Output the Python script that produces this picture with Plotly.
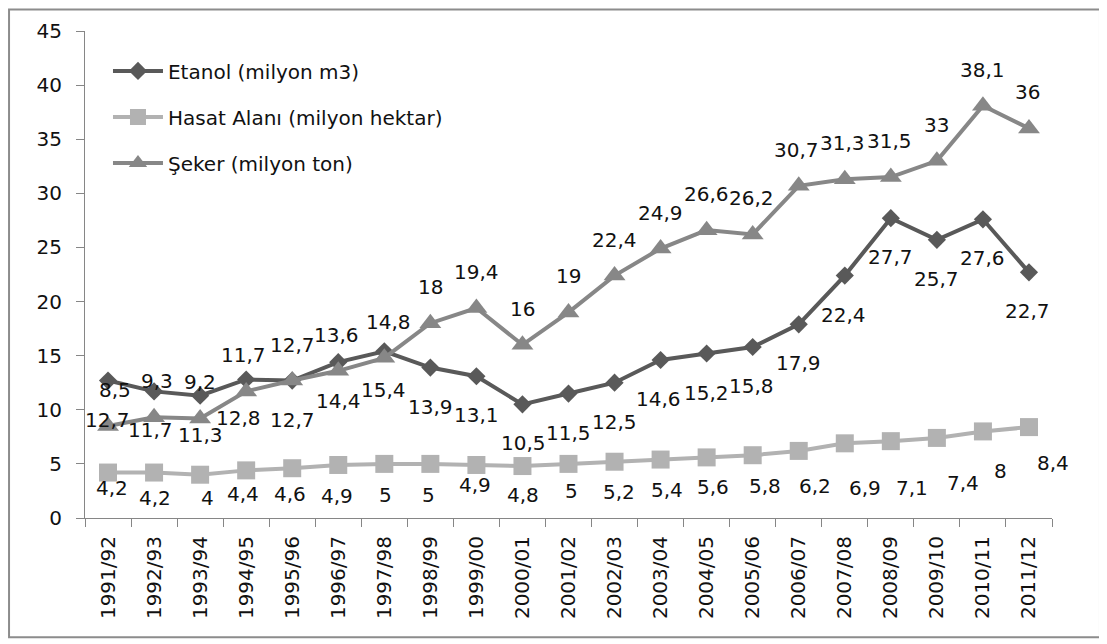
import plotly.graph_objects as go

# ---------------- data ----------------
seasons = ["1991/92", "1992/93", "1993/94", "1994/95", "1995/96", "1996/97", "1997/98",
           "1998/99", "1999/00", "2000/01", "2001/02", "2002/03", "2003/04", "2004/05",
           "2005/06", "2006/07", "2007/08", "2008/09", "2009/10", "2010/11", "2011/12"]
etanol = [12.7, 11.7, 11.3, 12.8, 12.7, 14.4, 15.4, 13.9, 13.1, 10.5, 11.5, 12.5,
          14.6, 15.2, 15.8, 17.9, 22.4, 27.7, 25.7, 27.6, 22.7]
hasat = [4.2, 4.2, 4.0, 4.4, 4.6, 4.9, 5.0, 5.0, 4.9, 4.8, 5.0, 5.2,
         5.4, 5.6, 5.8, 6.2, 6.9, 7.1, 7.4, 8.0, 8.4]
seker = [8.5, 9.3, 9.2, 11.7, 12.7, 13.6, 14.8, 18.0, 19.4, 16.0, 19.0, 22.4,
         24.9, 26.6, 26.2, 30.7, 31.3, 31.5, 33.0, 38.1, 36.0]
series_names = ["Etanol (milyon m3)", "Hasat Alanı (milyon hektar)", "Şeker (milyon ton)"]
y_ticks = [0, 5, 10, 15, 20, 25, 30, 35, 40, 45]

# ---------------- label offsets (style, px) ----------------
etanol_dx = [-1, -4, 0, -8, 0, 0, -1, 0, 0, 1, 0, 0, -2, 0, -1, 0, -1, 0, 0, 0, -1]
etanol_dy = [39] * 21
seker_dx = [7, 3, 0, -3, 0, -2, 4, 0, 0, 0, 0, 0, 0, 0, -1, -2, -2, -1, 0, 0, -1]
seker_dy = [-36] * 21
hasat_dx = [4, 1, 7, -3, -2, -1, 1, -2, -1, 1, 3, 4, 6, 6, 12, 16, 20, 21, 26, 18, 24]
hasat_dy = [15, 25, 23, 24, 26, 31, 31, 31, 20, 29, 27, 30, 30, 30, 31, 35, 45, 47, 45, 40, 36]

FONT = "DejaVu Sans"
FS = 20
TXT = "#111111"
colors = ["#595959", "#b2b2b2", "#878787"]
symbols = ["diamond", "square", "triangle-up"]
msizes = [14, 18, 19]


def fmt(v):
    return f"{v:g}".replace(".", ",")


fig = go.Figure()
for i, (name, vals) in enumerate(zip(series_names, [etanol, hasat, seker])):
    fig.add_trace(go.Scatter(
        x=seasons, y=vals, name=name, mode="lines+markers",
        line=dict(color=colors[i], width=4),
        marker=dict(symbol=symbols[i], size=msizes[i], color=colors[i]),
        legendgroup=f"g{i}",
        hoverinfo="skip",
    ))

annotations = []
for vals, dxs, dys in [(etanol, etanol_dx, etanol_dy), (hasat, hasat_dx, hasat_dy),
                       (seker, seker_dx, seker_dy)]:
    for s, v, dx, dy in zip(seasons, vals, dxs, dys):
        annotations.append(dict(
            x=s, y=v, xref="x", yref="y", text=fmt(v), showarrow=False,
            xshift=dx, yshift=-dy, font=dict(family=FONT, size=FS, color=TXT),
            xanchor="center", yanchor="middle",
        ))

# page body has an 8px default margin; work in screen pixels
OFF = 8
W, H = 1099, 636
ml = 85 - OFF
mr = W - (1052.5 - OFF)
mt = 30.5 - OFF
mb = H - (518.5 - OFF)
pw, ph = W - ml - mr, H - mt - mb


def sx(px):
    return (px - OFF - ml) / pw


def sy(py):
    return (H - mb - (py - OFF)) / ph


fig.update_layout(
    width=W, height=H,
    margin=dict(l=ml, r=mr, t=mt, b=mb, pad=0),
    paper_bgcolor="white", plot_bgcolor="white",
    font=dict(family=FONT, size=FS, color=TXT),
    showlegend=True,
    legend=dict(
        x=sx(108), y=sy(51), xanchor="left", yanchor="top",
        bgcolor="rgba(0,0,0,0)", borderwidth=0, tracegroupgap=17,
        itemwidth=50, font=dict(family=FONT, size=FS, color=TXT),
        itemclick=False, itemdoubleclick=False,
    ),
    annotations=annotations,
    shapes=[dict(
        type="rect", xref="paper", yref="paper",
        x0=sx(9), x1=sx(1100.5), y0=sy(638), y1=sy(9),
        line=dict(color="#8c8c8c", width=2), fillcolor="rgba(0,0,0,0)", layer="below",
    )],
    xaxis=dict(
        type="category", categoryorder="array", categoryarray=seasons,
        range=[-0.5, len(seasons) - 0.5], showgrid=False, zeroline=False,
        showline=True, linecolor="#868686", linewidth=1,
        ticks="outside", tickson="boundaries", ticklen=8, tickcolor="#868686",
        tickangle=-90, tickfont=dict(family=FONT, size=FS, color=TXT),
        automargin=False, ticklabelstandoff=9,
    ),
    yaxis=dict(
        range=[0, 45], tickvals=y_ticks, showgrid=False, zeroline=False,
        showline=True, linecolor="#868686", linewidth=1,
        ticks="outside", ticklen=8, tickcolor="#868686",
        tickfont=dict(family=FONT, size=FS, color=TXT),
        automargin=False, ticklabelstandoff=10,
    ),
)

fig.write_html("out.html")
